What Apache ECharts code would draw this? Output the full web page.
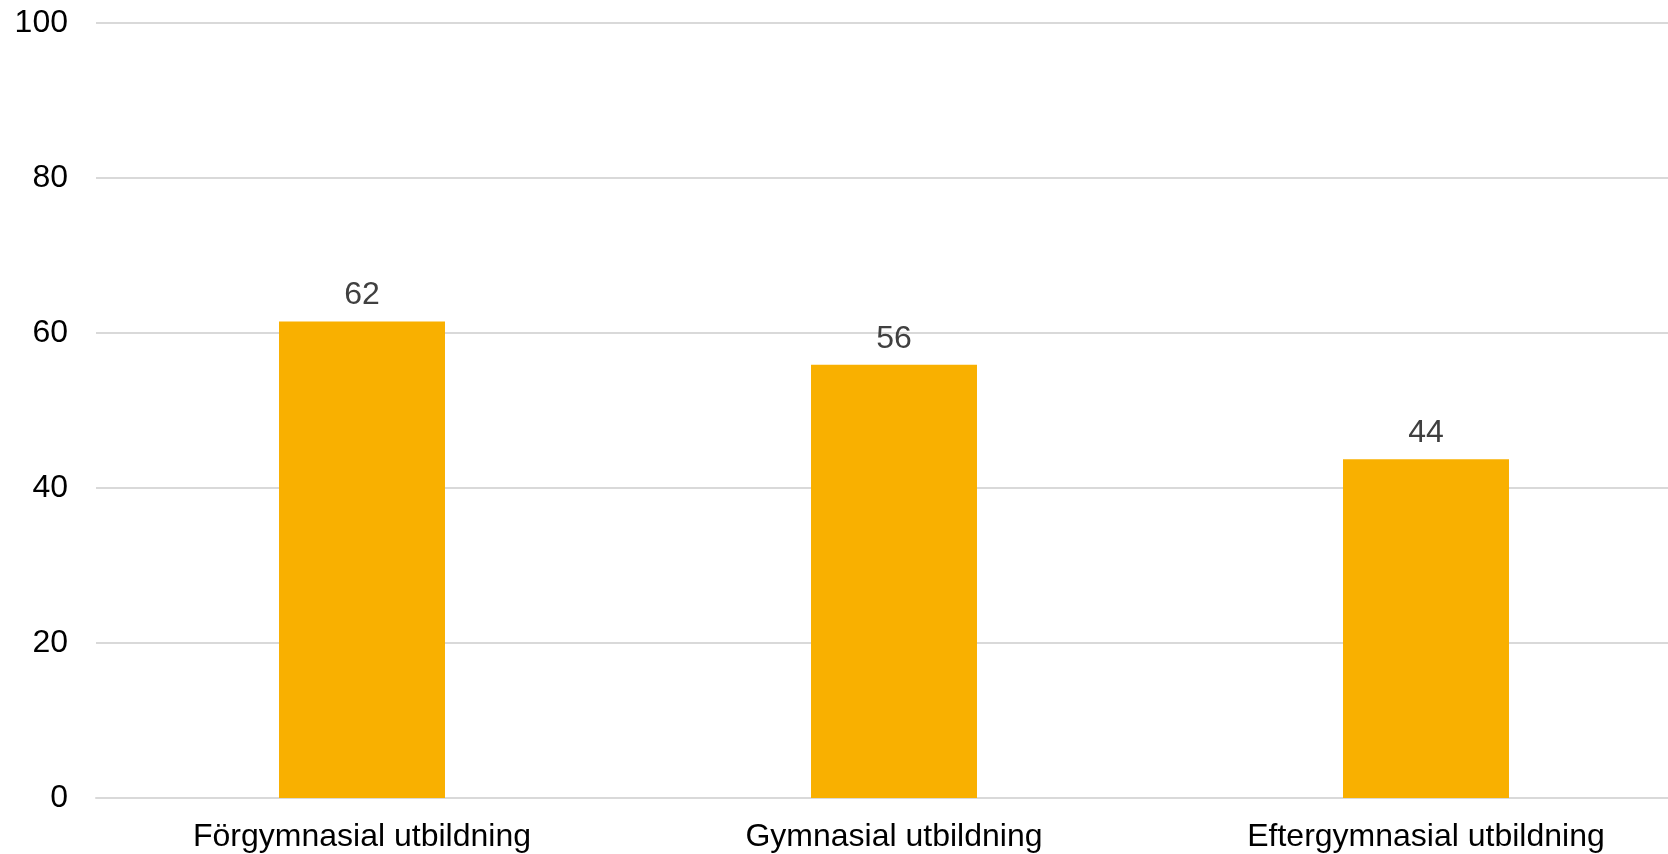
<!DOCTYPE html>
<html><head><meta charset="utf-8">
<script src="https://cdn.jsdelivr.net/npm/echarts@6/dist/echarts.min.js"></script>
<style>html,body{margin:0;padding:0;background:#fff}#c{width:1668px;height:854px}</style>
</head><body><div id="c"></div>
<script>
const categories = ["Förgymnasial utbildning", "Gymnasial utbildning", "Eftergymnasial utbildning"];
const values = [61.5, 55.9, 43.7];
const yTicks = [0, 20, 40, 60, 80, 100];

const chart = echarts.init(document.getElementById('c'), null, {renderer: 'canvas'});
chart.setOption({
  animation: false,
  backgroundColor: '#ffffff',
  textStyle: {fontFamily: 'Liberation Sans, Arial, sans-serif'},
  grid: {left: 96, width: 1596, top: 23, bottom: 56, containLabel: false, outerBoundsMode: 'none'},
  xAxis: {
    type: 'category',
    data: categories,
    axisLine: {show: true, lineStyle: {color: '#d9d9d9', width: 2}},
    axisTick: {show: false},
    axisLabel: {color: '#000', fontSize: 32, margin: 23, fontFamily: 'Liberation Sans'}
  },
  yAxis: {
    type: 'value',
    min: yTicks[0], max: yTicks[yTicks.length - 1], interval: 20,
    axisLine: {show: false},
    axisTick: {show: false},
    splitLine: {lineStyle: {color: '#d9d9d9', width: 2}},
    axisLabel: {color: '#000', fontSize: 32, margin: 28, fontFamily: 'Liberation Sans'}
  },
  series: [{
    type: 'bar',
    data: values,
    barWidth: '31.2%',
    itemStyle: {color: '#F9B000'},
    label: {
      show: true, position: 'top', distance: 10,
      color: '#404040', fontSize: 32, fontFamily: 'Liberation Sans',
      formatter: p => Math.round(p.value)
    }
  }]
});
</script></body></html>
